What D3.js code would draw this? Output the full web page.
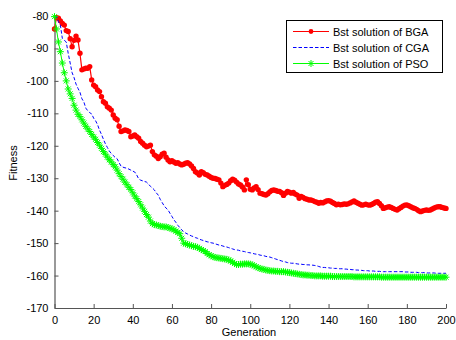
<!DOCTYPE html>
<html>
<head>
<meta charset="utf-8">
<script src="https://cdn.jsdelivr.net/npm/d3@7"></script>
<style>
  html, body { margin: 0; padding: 0; background: #fff; }
  svg text { font-family: "Liberation Sans", Arial, sans-serif; font-size: 11px; fill: #000; }
</style>
</head>
<body>
<div id="chart"></div>
<script>
var xTicks = [0, 20, 40, 60, 80, 100, 120, 140, 160, 180, 200];
var yTicks = [-80, -90, -100, -110, -120, -130, -140, -150, -160, -170];
var seriesNames = ['Bst solution of BGA', 'Bst solution of CGA', 'Bst solution of PSO'];

// fitness per generation 0..200
var bga = [
  -84, -80.5, -80.7, -81.5, -82.3, -82.8, -84.5, -84.8, -87, -89.5,
  -87.5, -86.2, -87.4, -91.5, -96.6, -96.3, -96.1, -96.1, -95.6, -99.7,
  -101.3, -101.8, -102.8, -103.3, -104.9, -106.4, -106.9, -108, -108.4, -109,
  -110.5, -111.5, -112, -114, -115.6, -115.4, -115.1, -115.3, -115.6, -117.2,
  -117, -116.7, -117.2, -117.7, -118.7, -119.2, -119.8, -120.3, -120.1, -119.8,
  -121.8, -122.8, -123.2, -123.9, -123.4, -122.6, -122.3, -123.5, -124.4, -124.9,
  -124.6, -125, -125.4, -125.2, -125.6, -125.9, -125.7, -125.4, -125.2, -125.6,
  -126.2, -127, -128, -128.4, -129, -128, -128.3, -128.8, -129, -129.4,
  -129.8, -130, -130.1, -130.3, -130.5, -131.5, -132.6, -132.2, -131.9, -131.5,
  -130.8, -130.3, -130.6, -131.2, -131.8, -132.1, -132.7, -133.6, -130.5, -132,
  -133.4, -133.6, -133, -132.6, -133.5, -134.6, -134.8, -135, -135.2, -134.8,
  -134.2, -133.8, -133.6, -133.8, -134, -134.1, -134.5, -135.3, -134.6, -134.1,
  -134.3, -134.6, -134.4, -134.9, -135.2, -136.2, -135.6, -135.9, -136.3, -136.5,
  -136.7, -136.7, -136.9, -137.2, -137.4, -137.7, -137.5, -137.6, -137.3, -137,
  -136.9, -137.1, -137.5, -137.8, -138.2, -138, -138.2, -138.1, -137.9, -138,
  -137.9, -137.6, -137.3, -137, -137.4, -137.7, -138, -138.3, -138.2, -138,
  -138.2, -138.3, -138.1, -137.8, -137.4, -137.2, -137.8, -138.5, -139.3, -139.1,
  -138.9, -138.8, -139, -139.3, -139.6, -139.8, -139.4, -139, -138.6, -138.3,
  -138.2, -138.5, -138.8, -139.1, -139.3, -139.6, -140, -140.3, -140.1, -139.9,
  -139.8, -139.9, -139.8, -139.5, -139.2, -138.9, -138.8, -138.8, -139, -139.2,
  -139.3
];
var cga = [
  -80, -80.2, -81.7, -82.8, -86.9, -87.5, -88, -91.5, -94.5, -97.5,
  -99, -101, -102.3, -103.5, -105.5, -106.5, -108.4, -109.2, -109.8, -110.2,
  -111.5, -112.3, -113.5, -115.2, -116.5, -118, -119.4, -120.5, -121.6, -122.4,
  -123, -123.6, -124, -125.2, -126.3, -126.6, -126.8, -126.9, -127.2, -127.5,
  -127.8, -128.1, -129, -130.2, -130.6, -130.8, -131, -131.2, -131.8, -132.5,
  -133, -133.6, -134.5, -135.2, -136.5, -137.5, -138.5, -139.2, -139.8, -140.8,
  -141.8, -142.8, -143.6, -144.5, -145.2, -145.9, -146.5, -146.9, -147.2, -147.5,
  -147.8, -148, -148.3, -148.5, -148.8, -149, -149.2, -149.4, -149.6, -149.7,
  -149.9, -150, -150.2, -150.4, -150.6, -150.7, -150.9, -151.1, -151.2, -151.4,
  -151.6, -151.8, -152, -152.1, -152.2, -152.4, -152.5, -152.6, -152.8, -152.9,
  -153, -153.1, -153.3, -153.4, -153.5, -153.7, -153.8, -153.9, -154.1, -154.2,
  -154.3, -154.5, -154.7, -154.9, -155.1, -155.3, -155.5, -155.7, -155.8, -156,
  -156.1, -156.2, -156.2, -156.3, -156.4, -156.5, -156.5, -156.6, -156.6, -156.7,
  -156.7, -156.8, -156.8, -156.9, -157, -157.2, -157.4, -157.5, -157.5, -157.6,
  -157.6, -157.7, -157.7, -157.8, -157.8, -157.9, -157.9, -157.9, -158, -158,
  -158.1, -158.1, -158.2, -158.2, -158.3, -158.3, -158.4, -158.4, -158.5, -158.5,
  -158.5, -158.6, -158.6, -158.6, -158.7, -158.7, -158.7, -158.8, -158.8, -158.8,
  -158.8, -158.8, -158.8, -158.8, -158.8, -158.8, -158.8, -158.8, -158.8, -158.9,
  -158.9, -158.9, -159, -159, -159, -159, -159.1, -159.1, -159.1, -159.1,
  -159.2, -159.2, -159.2, -159.2, -159.2, -159.3, -159.3, -159.3, -159.3, -159.3,
  -159.3
];
var pso = [
  -80.2, -84, -88, -91, -94.5, -97.5, -100, -102.5, -104, -105.4,
  -107.5, -109, -110.3, -111, -112, -113, -114, -114.8, -115.6, -116.5,
  -117.3, -118, -119, -119.8, -120.8, -121.8, -122.6, -123.5, -124.3, -125,
  -125.8, -126.5, -127.5, -128.6, -129.5, -130.3, -131.2, -132, -132.8, -133.5,
  -134.5, -135.5, -136.3, -137.2, -138.2, -139.2, -140.2, -141.2, -142, -143.2,
  -144, -144.3, -144.4, -144.6, -144.8, -144.9, -145, -145, -145.2, -145.4,
  -145.6, -145.9, -146.3, -146.7, -147.1, -148.5, -150, -150.2, -150.4, -150.6,
  -150.8, -151, -151.1, -151.3, -151.6, -152, -152.3, -152.6, -153.2, -153.6,
  -153.9, -154.2, -154.4, -154.5, -154.6, -154.7, -154.8, -154.9, -155, -155.2,
  -155.5, -155.9, -156.3, -156.6, -156.6, -156.5, -156.5, -156.4, -156.4, -156.4,
  -156.5, -156.7, -157, -157.3, -157.6, -157.8, -158, -158.1, -158.3, -158.4,
  -158.5, -158.6, -158.6, -158.7, -158.7, -158.8, -158.8, -158.8, -158.9, -159,
  -159.1, -159.2, -159.3, -159.4, -159.5, -159.6, -159.7, -159.8, -159.8, -159.9,
  -159.9, -160, -160, -160.1, -160.1, -160.1, -160.1, -160.2, -160.2, -160.2,
  -160.2, -160.2, -160.3, -160.3, -160.3, -160.3, -160.3, -160.3, -160.3, -160.3,
  -160.3, -160.3, -160.3, -160.4, -160.4, -160.4, -160.4, -160.4, -160.4, -160.4,
  -160.4, -160.4, -160.4, -160.4, -160.4, -160.4, -160.4, -160.5, -160.5, -160.5,
  -160.5, -160.5, -160.5, -160.5, -160.5, -160.5, -160.5, -160.5, -160.5, -160.5,
  -160.5, -160.5, -160.5, -160.5, -160.5, -160.5, -160.5, -160.5, -160.5, -160.5,
  -160.5, -160.5, -160.5, -160.5, -160.5, -160.5, -160.5, -160.5, -160.5, -160.5,
  -160.5
];

var width = 456, height = 340;
var plotLeft = 54.5, plotRight = 446, plotTop = 16, plotBottom = 308;

var svg = d3.select('#chart').append('svg')
    .attr('width', width)
    .attr('height', height);

var x = d3.scaleLinear().domain([0, 200]).range([plotLeft, plotRight]);
var y = d3.scaleLinear().domain([-170, -80]).range([plotBottom, plotTop]);

// Axes (MATLAB style, ticks pointing inward)
var xAxis = svg.append('g')
    .attr('transform', 'translate(0,' + plotBottom + ')')
    .call(d3.axisBottom(x).tickValues(xTicks).tickSize(-4).tickPadding(8).tickSizeOuter(0));
var yAxis = svg.append('g')
    .attr('transform', 'translate(' + plotLeft + ',0)')
    .call(d3.axisLeft(y).tickValues(yTicks).tickSize(-4).tickPadding(6).tickSizeOuter(0)
        .tickFormat(function(d) { return d; }));

[xAxis, yAxis].forEach(function(a) {
    a.select('.domain').attr('stroke', '#555').attr('stroke-width', 1.2);
    a.selectAll('.tick line').attr('stroke', '#555');
    a.selectAll('.tick text')
        .attr('font-family', '"Liberation Sans", Arial, sans-serif')
        .attr('font-size', 11)
        .attr('fill', '#000');
});

svg.append('text')
    .attr('x', 249).attr('y', 336)
    .attr('text-anchor', 'middle')
    .text('Generation');

svg.append('text')
    .attr('transform', 'translate(17,163) rotate(-90)')
    .attr('text-anchor', 'middle')
    .text('Fitness');

var line = d3.line()
    .x(function(d, i) { return x(i); })
    .y(function(d) { return y(d); });

var star = 'M-3.5,0H3.5M0,-3.5V3.5M-2.5,-2.5L2.5,2.5M-2.5,2.5L2.5,-2.5';

var plot = svg.append('g');

// BGA: red line with dots
plot.append('path')
    .datum(bga)
    .attr('fill', 'none')
    .attr('stroke', '#ff0000')
    .attr('stroke-width', 1.2)
    .attr('d', line);
plot.selectAll('.bga-dot')
    .data(bga)
    .enter()
    .append('circle')
    .attr('class', 'bga-dot')
    .attr('cx', function(d, i) { return x(i); })
    .attr('cy', function(d) { return y(d); })
    .attr('r', 2.7)
    .attr('fill', '#ff0000');

// CGA: blue dashed
plot.append('path')
    .datum(cga)
    .attr('fill', 'none')
    .attr('stroke', '#0000ff')
    .attr('stroke-width', 1)
    .attr('stroke-dasharray', '3.5,2')
    .attr('d', line);

// PSO: green line with stars
plot.append('path')
    .datum(pso)
    .attr('fill', 'none')
    .attr('stroke', '#00ff00')
    .attr('stroke-width', 1)
    .attr('d', line);
plot.selectAll('.pso-star')
    .data(pso)
    .enter()
    .append('path')
    .attr('class', 'pso-star')
    .attr('transform', function(d, i) { return 'translate(' + x(i) + ',' + y(d) + ')'; })
    .attr('d', star)
    .attr('fill', 'none')
    .attr('stroke', '#00ff00')
    .attr('stroke-width', 1);

// Legend
var legend = svg.append('g');
legend.append('rect')
    .attr('x', 286.5).attr('y', 20.5)
    .attr('width', 156).attr('height', 52)
    .attr('fill', '#fff')
    .attr('stroke', '#000')
    .attr('stroke-width', 1);

var rowY = [31.5, 47.5, 63.5];
var rowColor = ['#ff0000', '#0000ff', '#00ff00'];
seriesNames.forEach(function(name, i) {
    var g = legend.append('g').attr('transform', 'translate(0,' + rowY[i] + ')');
    var ln = g.append('line')
        .attr('x1', 293).attr('x2', 329)
        .attr('y1', 0).attr('y2', 0)
        .attr('stroke', rowColor[i])
        .attr('stroke-width', 1);
    if (i === 0) {
        g.append('circle').attr('cx', 311).attr('cy', 0).attr('r', 2.4).attr('fill', rowColor[i]);
    } else if (i === 1) {
        ln.attr('stroke-dasharray', '3.5,2');
    } else {
        g.append('path').attr('transform', 'translate(311,0)').attr('d', star)
            .attr('fill', 'none').attr('stroke', rowColor[i]);
    }
    g.append('text')
        .attr('x', 333).attr('y', 4)
        .text(name);
});
</script>
</body>
</html>
